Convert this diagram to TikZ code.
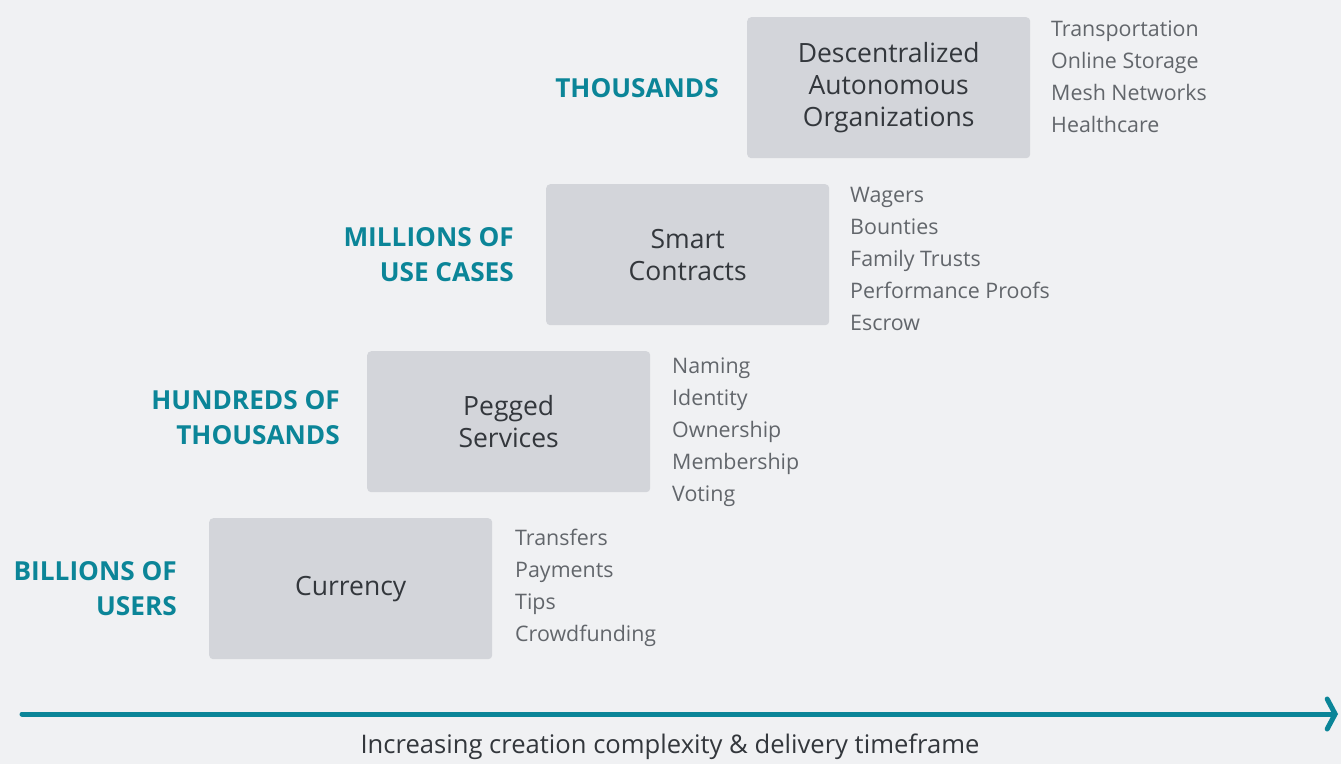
\documentclass[tikz,border=0pt]{standalone}
\usepackage{fontspec}
\setmainfont{Open Sans}
\usetikzlibrary{arrows.meta,positioning}
\definecolor{fundo}{HTML}{F0F1F3}
\definecolor{caixa}{HTML}{D3D5DA}
\definecolor{petroleo}{HTML}{0B8598}
\definecolor{escuro}{HTML}{33373C}
\definecolor{cinza}{HTML}{62666B}
\tikzset{
  etapa/.style={rectangle,rounded corners=4pt,fill=caixa,anchor=north west,minimum width=283pt,minimum height=141pt,align=center,text=escuro,font=\fontsize{26.5}{32}\selectfont},
  itens/.style={anchor=north west,align=left,inner sep=0pt,text=cinza,font=\fontsize{21.4}{32}\selectfont},
  escala/.style={anchor=east,align=right,inner sep=0pt,text=petroleo,font=\fontsize{26.2}{35}\selectfont\bfseries},
  eixo/.style={-{Straight Barb[length=8pt,width=30pt,line cap=round]},line width=5pt,line cap=round,petroleo},
}

\begin{document}
\begin{tikzpicture}[x=1pt,y=-1pt]
\useasboundingbox (0,0) rectangle (1341,764);
\fill[fundo] (0,0) rectangle (1341,764);
% degraus
\node[etapa] (cur) at (209,518) {Currency};
\node[etapa] (peg) at (367,351) {Pegged\\Services};
\node[etapa] (sc) at (546,184) {Smart\\Contracts};
\node[etapa] (dao) at (747,17) {Descentralized\\Autonomous\\Organizations};
% listas de aplicacoes
\node[itens] (lcur) at (515,529) {Transfers\\Payments\\Tips\\Crowdfunding};
\node[itens] (lpeg) at (672,358) {Naming\\Identity\\Ownership\\Membership\\Voting};
\node[itens] (lsc) at (850,187) {Wagers\\Bounties\\Family Trusts\\Performance Proofs\\Escrow};
\node[itens] (ldao) at (1051,21) {Transportation\\Online Storage\\Mesh Networks\\Healthcare};
% escala de uso
\node[escala,left=32pt of cur.west] (ecur) {BILLIONS OF\\USERS};
\node[escala,left=27pt of peg.west,yshift=4pt] (epeg) {HUNDREDS OF\\THOUSANDS};
\node[escala,left=32pt of sc.west] (esc) {MILLIONS OF\\USE CASES};
\node[escala,left=28pt of dao.west] (edao) {THOUSANDS};
% eixo
\coordinate (ini) at (22,714);
\coordinate (fim) at (1338,714);
\draw[eixo] (ini) -- (fim);
\node[text=escuro,font=\fontsize{25.6}{30}\selectfont] (leg) at (670,747) {Increasing creation complexity \& delivery timeframe};
\end{tikzpicture}
\end{document}
